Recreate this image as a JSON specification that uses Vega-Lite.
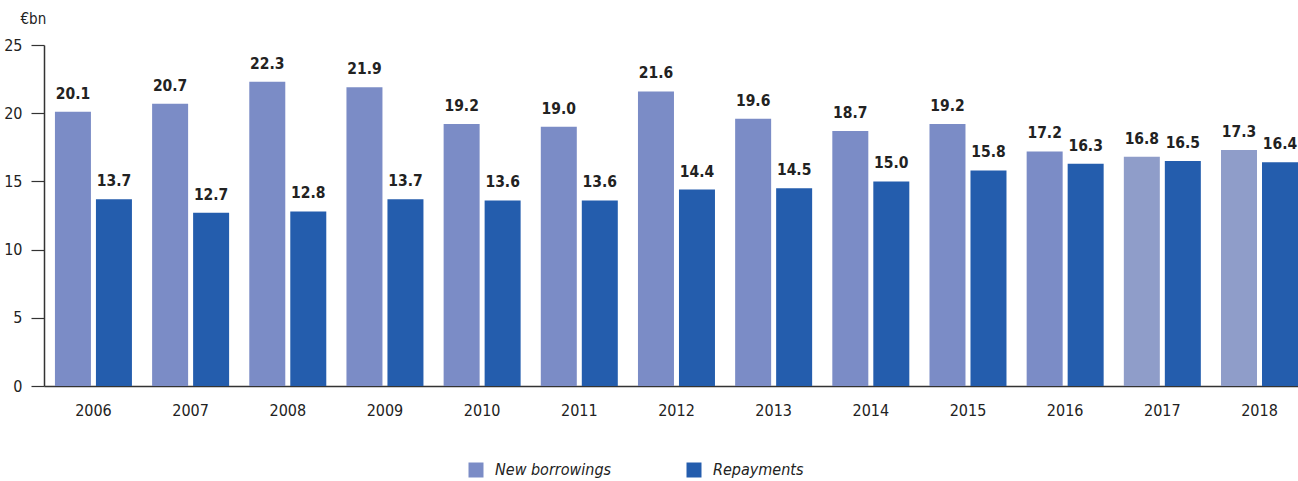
{
  "$schema": "https://vega.github.io/schema/vega-lite/v6.json",
  "width": 1254,
  "height": 341,
  "autosize": {"type": "none"},
  "padding": {"left": 44, "top": 45, "right": 0, "bottom": 95},
  "background": "white",
  "config": {
    "view": {"stroke": null},
    "font": "'DejaVu Sans Condensed', Roboto, sans-serif",
    "text": {"font": "'DejaVu Sans Condensed', Roboto, sans-serif"}
  },
  "data": {
    "values": [
      {"year": "2006", "series": "New borrowings", "value": 20.1},
      {"year": "2006", "series": "Repayments", "value": 13.7},
      {"year": "2007", "series": "New borrowings", "value": 20.7},
      {"year": "2007", "series": "Repayments", "value": 12.7},
      {"year": "2008", "series": "New borrowings", "value": 22.3},
      {"year": "2008", "series": "Repayments", "value": 12.8},
      {"year": "2009", "series": "New borrowings", "value": 21.9},
      {"year": "2009", "series": "Repayments", "value": 13.7},
      {"year": "2010", "series": "New borrowings", "value": 19.2},
      {"year": "2010", "series": "Repayments", "value": 13.6},
      {"year": "2011", "series": "New borrowings", "value": 19.0},
      {"year": "2011", "series": "Repayments", "value": 13.6},
      {"year": "2012", "series": "New borrowings", "value": 21.6},
      {"year": "2012", "series": "Repayments", "value": 14.4},
      {"year": "2013", "series": "New borrowings", "value": 19.6},
      {"year": "2013", "series": "Repayments", "value": 14.5},
      {"year": "2014", "series": "New borrowings", "value": 18.7},
      {"year": "2014", "series": "Repayments", "value": 15.0},
      {"year": "2015", "series": "New borrowings", "value": 19.2},
      {"year": "2015", "series": "Repayments", "value": 15.8},
      {"year": "2016", "series": "New borrowings", "value": 17.2},
      {"year": "2016", "series": "Repayments", "value": 16.3},
      {"year": "2017", "series": "New borrowings", "value": 16.8},
      {"year": "2017", "series": "Repayments", "value": 16.5},
      {"year": "2018", "series": "New borrowings", "value": 17.3},
      {"year": "2018", "series": "Repayments", "value": 16.4}
    ]
  },
  "encoding": {
    "x": {
      "field": "year",
      "type": "nominal",
      "scale": {"paddingInner": 0.2076, "paddingOuter": 0.0563, "align": 1},
      "axis": {
        "title": null,
        "labelAngle": 0,
        "ticks": false,
        "labelPadding": 16,
        "labelFontSize": 16,
        "labelColor": "#222",
        "domainColor": "#333",
        "domainWidth": 1.5
      }
    },
    "xOffset": {
      "field": "series",
      "type": "nominal",
      "scale": {"paddingInner": 0.122, "paddingOuter": 0}
    },
    "y": {
      "field": "value",
      "type": "quantitative",
      "scale": {"domain": [0, 25]},
      "axis": {
        "values": [0, 5, 10, 15, 20, 25],
        "grid": false,
        "tickSize": 13,
        "tickColor": "#333",
        "tickWidth": 1.2,
        "domainColor": "#333",
        "domainWidth": 1.5,
        "labelPadding": 9,
        "labelFontSize": 16,
        "labelColor": "#222",
        "title": "€bn",
        "titleAngle": 0,
        "titleAlign": "left",
        "titleBaseline": "alphabetic",
        "titleX": -24,
        "titleY": -22,
        "titleFontSize": 15,
        "titleFontWeight": "normal",
        "titleColor": "#222"
      }
    }
  },
  "layer": [
    {
      "mark": {"type": "bar"},
      "encoding": {
        "color": {
          "condition": {
            "test": "datum.series == 'New borrowings' && (datum.year == '2017' || datum.year == '2018')",
            "value": "#8f9dc9"
          },
          "field": "series",
          "type": "nominal",
          "scale": {"domain": ["New borrowings", "Repayments"], "range": ["#7b8cc6", "#245dad"]},
          "legend": {
            "title": null,
            "orient": "none",
            "direction": "horizontal",
            "legendX": 424,
            "legendY": 417,
            "symbolType": "square",
            "symbolSize": 225,
            "symbolStrokeWidth": 0,
            "symbolOpacity": 1,
            "labelFontSize": 16,
            "labelFontStyle": "italic",
            "labelColor": "#222",
            "labelOffset": 11,
            "columnPadding": 74
          }
        }
      }
    },
    {
      "mark": {
        "type": "text",
        "baseline": "alphabetic",
        "dy": -13,
        "fontWeight": "bold",
        "fontSize": 15.5,
        "color": "#222"
      },
      "encoding": {
        "text": {"field": "value", "type": "quantitative", "format": ".1f"}
      }
    }
  ]
}
